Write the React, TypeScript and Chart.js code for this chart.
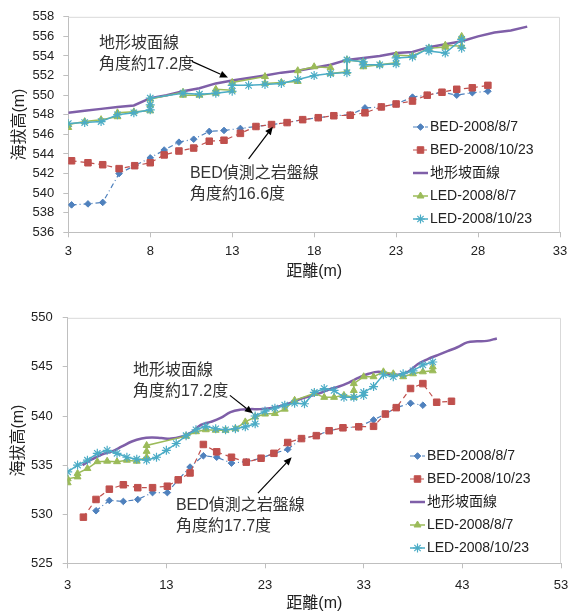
import { useEffect, useRef } from 'react';
import Chart from 'chart.js/auto';
import { drawPoint } from 'chart.js/helpers';

const FONT = "'Liberation Sans', 'Noto Sans CJK TC', sans-serif";

const seriesNames = ['BED-2008/8/7', 'BED-2008/10/23', '地形坡面線', 'LED-2008/8/7', 'LED-2008/10/23'];

// ---------- upper chart ----------
const topXTicks = [3, 8, 13, 18, 23, 28, 33];
const topYTicks = [536, 538, 540, 542, 544, 546, 548, 550, 552, 554, 556, 558];

const topBedX = [3.2, 4.2, 5.1, 6.1, 7.05, 8.0, 8.85, 9.75, 10.65, 11.6, 12.5, 13.5, 14.45, 15.4, 16.35, 17.3, 18.25, 19.2, 20.2, 21.1, 22.1, 23.0, 24.0, 24.9, 25.8, 26.7, 27.65, 28.6];
const topBed0807 = [538.8, 538.9, 539.05, 542.0, 542.8, 543.6, 544.4, 545.2, 545.5, 546.3, 546.4, 546.6, 546.8, 547.0, 547.2, 547.5, 547.7, 547.9, 548.0, 548.7, 548.8, 549.1, 549.8, 550.0, 550.3, 550.0, 550.25, 550.4];
const topBed1023 = [543.3, 543.1, 542.9, 542.5, 542.8, 543.1, 543.9, 544.3, 544.6, 545.3, 545.4, 546.1, 546.8, 547.0, 547.2, 547.5, 547.7, 547.9, 547.95, 548.2, 548.8, 549.1, 549.4, 550.0, 550.3, 550.6, 550.75, 551.0];

const topSlopeX = [3, 4, 5, 6, 7, 8, 9, 10, 11, 12, 13, 14, 15, 16, 17, 18, 19, 20, 21, 22, 23, 24, 25, 26, 27, 28, 29, 30, 31];
const topSlopeY = [548.2, 548.4, 548.6, 548.8, 548.95, 549.7, 550.0, 550.4, 550.7, 551.2, 551.5, 551.75, 552.0, 552.3, 552.5, 552.8, 553.1, 553.6, 553.8, 554.0, 554.3, 554.4, 554.9, 555.2, 555.5, 556.0, 556.4, 556.6, 557.0];

const topLed0807X = [3, 3, 4, 5, 6, 6, 7, 8, 8, 8, 10, 10, 11, 12, 12, 13, 13, 15, 15, 16, 17, 17, 18, 19, 19, 20, 20, 21, 21, 22, 23, 23, 24, 25, 26, 26, 27, 27];
const topLed0807Y = [546.7, 547.0, 547.3, 547.5, 547.8, 548.2, 548.3, 548.4, 549.0, 549.6, 550.3, 550.0, 550.0, 550.2, 550.6, 550.5, 551.3, 551.9, 551.2, 551.3, 551.4, 552.5, 552.9, 552.8, 552.2, 552.4, 553.6, 553.4, 552.9, 553.1, 553.3, 554.1, 554.0, 554.8, 554.9, 555.1, 555.0, 556.0];

const topLed1023X = [3, 4, 5, 6, 7, 8, 8, 8, 10, 11, 12, 13, 13, 14, 15, 16, 17, 18, 19, 20, 20, 21, 21, 22, 23, 23, 24, 25, 25, 26, 27, 27];
const topLed1023Y = [547.1, 547.2, 547.3, 548.0, 548.2, 548.5, 549.0, 549.7, 550.2, 550.1, 550.2, 550.4, 551.0, 551.0, 551.1, 551.2, 551.6, 552.0, 552.2, 552.3, 553.6, 553.4, 553.1, 553.1, 553.2, 553.8, 553.9, 554.8, 554.5, 554.3, 555.7, 554.8];

const topTexts = [
  { lines: ['地形坡面線', '角度約17.2度'], x: 4.87, y: 555.27 },
  { lines: ['BED偵測之岩盤線', '角度約16.6度'], x: 10.42, y: 541.98 },
];
const topArrows = [
  { from: [10.54, 553.45], to: [12.74, 551.8] },
  { from: [14.0, 543.5], to: [15.48, 546.77] },
];

// ---------- lower chart ----------
const botXTicks = [3, 13, 23, 33, 43, 53];
const botYTicks = [525, 530, 535, 540, 545, 550];

const botBedX = [4.59, 5.87, 7.22, 8.64, 10.1, 11.6, 13.1, 14.2, 15.4, 16.75, 18.1, 19.6, 21.1, 22.6, 23.9, 25.3, 26.7, 28.2, 29.5, 30.9, 32.5, 34.0, 35.2, 36.3, 37.75, 39.0, 40.4, 41.9];
const botBed1023 = [529.7, 531.5, 532.55, 533.0, 532.7, 532.7, 532.85, 533.5, 534.2, 537.1, 536.35, 535.8, 535.3, 535.7, 536.2, 537.3, 537.7, 538.0, 538.5, 538.8, 538.9, 538.95, 540.2, 540.85, 542.8, 543.3, 541.4, 541.5];
const botBed0807X = [5.87, 7.22, 8.64, 10.1, 11.6, 13.1, 14.2, 15.4, 16.75, 18.1, 19.6, 21.1, 22.6, 23.9, 25.3, 26.7, 28.2, 29.5, 30.9, 32.5, 34.0, 35.2, 36.3, 37.75, 39.0];
const botBed0807 = [530.35, 531.4, 531.3, 531.5, 532.2, 532.2, 533.5, 534.8, 535.95, 535.8, 535.2, 535.35, 535.7, 536.2, 536.6, 537.7, 538.0, 538.5, 538.8, 538.9, 539.6, 540.2, 540.85, 541.3, 541.1];

const botSlopeX = [4.5, 5.5, 6.5, 7.5, 8.5, 9.5, 10.5, 11.5, 12.5, 13.5, 14.5, 15.5, 16.5, 17.5, 18.5, 19.5, 20.5, 21.5, 22.5, 23.5, 24.5, 25.5, 26.5, 27.5, 28.5, 29.5, 30.5, 31.5, 32.5, 33.5, 34.5, 35.5, 36.5, 37.5, 38.5, 39.5, 40.5, 41.5, 42.5, 43.5, 44.5, 45.5, 46.5];
const botSlopeY = [535.0, 535.6, 536.1, 536.4, 536.9, 537.4, 537.7, 537.8, 537.75, 537.7, 537.9, 538.3, 539.1, 539.4, 539.8, 540.4, 540.65, 540.7, 540.7, 540.8, 541.0, 541.3, 541.7, 542.0, 542.3, 542.7, 543.0, 543.4, 543.9, 544.3, 544.5, 544.3, 544.2, 544.5, 545.3, 545.8, 546.2, 546.6, 547.0, 547.5, 547.6, 547.65, 547.9];

const botLed0807X = [3, 3, 4, 4, 5, 6, 7, 8, 9, 10, 11, 11, 11, 15, 16, 17, 18, 19, 20, 21, 22, 23, 24, 25, 26, 28, 29, 30, 31, 32, 32, 32, 33, 34, 35, 36, 37, 38, 39, 40, 40];
const botLed0807Y = [533.2, 533.6, 533.8, 534.15, 534.65, 535.35, 535.4, 535.35, 535.5, 535.4, 535.8, 536.4, 537.0, 537.95, 538.4, 538.6, 538.55, 538.55, 538.7, 539.4, 539.9, 540.2, 540.25, 540.7, 541.6, 542.3, 541.9, 541.9, 542.1, 541.9, 542.6, 543.3, 544.0, 544.0, 544.5, 544.3, 544.0, 544.3, 544.5, 544.6, 545.0];

const botLed1023X = [3, 4, 5, 6, 7, 8, 9, 10, 11, 12, 13, 14, 15, 16, 17, 18, 19, 20, 21, 22, 22, 23, 24, 25, 26, 27, 28, 29, 30, 31, 32, 33, 33, 34, 35, 36, 37, 38, 39, 40];
const botLed1023Y = [534.3, 535.0, 535.5, 536.2, 536.5, 536.2, 535.8, 535.6, 535.5, 535.8, 536.5, 537.2, 538.0, 538.6, 538.95, 538.7, 538.6, 538.7, 538.9, 539.2, 540.0, 540.5, 540.8, 541.1, 541.3, 541.25, 542.4, 542.8, 542.6, 541.9, 541.9, 542.1, 542.4, 543.0, 544.2, 544.0, 544.3, 544.6, 545.2, 545.5];

const botTexts = [
  { lines: ['地形坡面線', '角度約17.2度'], x: 9.62, y: 544.64 },
  { lines: ['BED偵測之岩盤線', '角度約17.7度'], x: 13.97, y: 530.9 },
];
const botArrows = [
  { from: [19.44, 542.1], to: [21.77, 540.27] },
  { from: [22.28, 532.15], to: [25.7, 535.8] },
];

function pts(xs: number[], ys: number[]) {
  return xs.map((x, i) => ({ x, y: ys[i] }));
}

const frame = {
  id: 'frame',
  afterDraw(chart: any) {
    const { ctx, chartArea: a } = chart;
    ctx.save();
    ctx.strokeStyle = '#d9d9d9';
    ctx.lineWidth = 1;
    ctx.beginPath();
    ctx.moveTo(a.left, a.top + 0.5);
    ctx.lineTo(a.right - 0.5, a.top + 0.5);
    ctx.lineTo(a.right - 0.5, a.bottom);
    ctx.stroke();
    ctx.restore();
  },
};

const notes = {
  id: 'notes',
  afterDraw(chart: any, _args: any, opts: any) {
    const { ctx } = chart;
    const sx = chart.scales.x;
    const sy = chart.scales.y;
    ctx.save();
    ctx.font = `16px ${FONT}`;
    ctx.fillStyle = '#333';
    ctx.textBaseline = 'middle';
    ctx.textAlign = 'left';
    opts.texts.forEach((t: any) => {
      const px = sx.getPixelForValue(t.x);
      const py = sy.getPixelForValue(t.y);
      t.lines.forEach((line: string, i: number) => ctx.fillText(line, px, py + i * opts.lineGap));
    });
    ctx.strokeStyle = '#000';
    ctx.fillStyle = '#000';
    ctx.lineWidth = 1.2;
    opts.arrows.forEach((a: any) => {
      const x1 = sx.getPixelForValue(a.from[0]);
      const y1 = sy.getPixelForValue(a.from[1]);
      const x2 = sx.getPixelForValue(a.to[0]);
      const y2 = sy.getPixelForValue(a.to[1]);
      const ang = Math.atan2(y2 - y1, x2 - x1);
      const hl = 8;
      const hw = 3.5;
      const bx = x2 - hl * Math.cos(ang);
      const by = y2 - hl * Math.sin(ang);
      ctx.beginPath();
      ctx.moveTo(x1, y1);
      ctx.lineTo(bx, by);
      ctx.stroke();
      ctx.beginPath();
      ctx.moveTo(x2, y2);
      ctx.lineTo(bx + hw * Math.sin(ang), by - hw * Math.cos(ang));
      ctx.lineTo(bx - hw * Math.sin(ang), by + hw * Math.cos(ang));
      ctx.closePath();
      ctx.fill();
    });
    ctx.restore();
  },
};

const sideLegend = {
  id: 'sideLegend',
  afterDraw(chart: any, _args: any, opts: any) {
    const { ctx } = chart;
    ctx.save();
    ctx.font = `14px ${FONT}`;
    ctx.textBaseline = 'middle';
    ctx.textAlign = 'left';
    chart.data.datasets.forEach((ds: any, i: number) => {
      const y = opts.y + i * opts.gap;
      ctx.strokeStyle = ds.borderColor;
      ctx.lineWidth = ds.borderWidth;
      ctx.setLineDash(ds.borderDash || []);
      ctx.beginPath();
      ctx.moveTo(opts.x, y);
      ctx.lineTo(opts.x + opts.len, y);
      ctx.stroke();
      ctx.setLineDash([]);
      if (ds.pointRadius > 0) {
        ctx.fillStyle = ds.backgroundColor;
        ctx.strokeStyle = ds.borderColor;
        ctx.lineWidth = ds.pointBorderWidth ?? 1;
        drawPoint(ctx, { pointStyle: ds.pointStyle, radius: ds.pointRadius, borderWidth: ds.pointBorderWidth ?? 1, rotation: 0 }, opts.x + opts.len / 2, y);
      }
      ctx.fillStyle = '#222';
      ctx.fillText(ds.label, opts.x + opts.len + 2, y);
    });
    ctx.restore();
  },
};

function buildDatasets(d: any) {
  return [
    {
      label: seriesNames[0], data: d.bed0807, order: 5, showLine: true,
      borderColor: '#4F81BD', backgroundColor: '#4F81BD', borderWidth: 1.2, borderDash: [5, 3, 1, 3],
      pointStyle: 'rectRot', pointRadius: 3.3, pointBorderWidth: 1,
    },
    {
      label: seriesNames[1], data: d.bed1023, order: 4, showLine: true,
      borderColor: '#C0504D', backgroundColor: '#C0504D', borderWidth: 1.2, borderDash: [5, 4],
      pointStyle: 'rect', pointRadius: 4.6, pointBorderWidth: 1,
    },
    {
      label: seriesNames[2], data: d.slope, order: 3, showLine: true,
      borderColor: '#7F5FA8', backgroundColor: '#7F5FA8', borderWidth: 2.5, tension: d.tension,
      pointRadius: 0,
    },
    {
      label: seriesNames[3], data: d.led0807, order: 2, showLine: true,
      borderColor: '#9BBB59', backgroundColor: '#9BBB59', borderWidth: 1.5,
      pointStyle: 'triangle', pointRadius: 4, pointBorderWidth: 1,
    },
    {
      label: seriesNames[4], data: d.led1023, order: 1, showLine: true,
      borderColor: '#4BACC6', backgroundColor: '#4BACC6', borderWidth: 1.5,
      pointStyle: 'star', pointRadius: 4.5, pointBorderWidth: 1.2,
    },
  ];
}

function buildConfig(c: any) {
  return {
    type: 'scatter',
    data: { datasets: buildDatasets(c) },
    options: {
      responsive: false,
      animation: false,
      events: [],
      layout: { padding: { left: 0, top: c.area.top, right: c.area.right, bottom: 0 } },
      plugins: {
        legend: { display: false },
        tooltip: { enabled: false },
        notes: { texts: c.texts, arrows: c.arrows, lineGap: 21 },
        sideLegend: c.legend,
      },
      scales: {
        x: {
          type: 'linear',
          min: c.xTicks[0],
          max: c.xTicks[c.xTicks.length - 1],
          afterBuildTicks: (s: any) => { s.ticks = c.xTicks.map((v: number) => ({ value: v })); },
          afterFit: (s: any) => { s.height = c.area.xH; },
          grid: { drawOnChartArea: false, tickLength: 5, color: '#bfbfbf' },
          border: { color: '#bfbfbf' },
          ticks: { padding: c.area.xPad, color: '#222', font: { size: 13 }, maxRotation: 0, autoSkip: false },
          title: { display: true, text: '距離(m)', color: '#222', font: { size: 16 }, padding: { top: 0, bottom: c.area.xTitlePad } },
        },
        y: {
          type: 'linear',
          min: c.yTicks[0],
          max: c.yTicks[c.yTicks.length - 1],
          afterBuildTicks: (s: any) => { s.ticks = c.yTicks.map((v: number) => ({ value: v })); },
          afterFit: (s: any) => { s.width = c.area.yW; },
          grid: { drawOnChartArea: false, tickLength: 5, color: '#bfbfbf' },
          border: { color: '#bfbfbf' },
          ticks: { padding: c.area.yPad, color: '#222', font: { size: 13 } },
          title: { display: true, text: '海拔高(m)', color: '#222', font: { size: 16 }, padding: { top: c.area.yTitlePad, bottom: 0 } },
        },
      },
    },
    plugins: [frame, notes, sideLegend],
  };
}

const topConfig = () => buildConfig({
  bed0807: pts(topBedX, topBed0807),
  bed1023: pts(topBedX, topBed1023),
  slope: pts(topSlopeX, topSlopeY),
  led0807: pts(topLed0807X, topLed0807Y),
  led1023: pts(topLed1023X, topLed1023Y),
  tension: 0,
  xTicks: topXTicks,
  yTicks: topYTicks,
  texts: topTexts,
  arrows: topArrows,
  legend: { x: 413, y: 127, gap: 23, len: 15 },
  area: { top: 15, right: 21, xH: 67.7, yW: 68.3, xPad: 6, yPad: 9, xTitlePad: 19, yTitlePad: 10 },
});

const bottomConfig = () => buildConfig({
  bed0807: pts(botBed0807X, botBed0807),
  bed1023: pts(botBedX, botBed1023),
  slope: pts(botSlopeX, botSlopeY),
  led0807: pts(botLed0807X, botLed0807Y),
  led1023: pts(botLed1023X, botLed1023Y),
  tension: 0.4,
  xTicks: botXTicks,
  yTicks: botYTicks,
  texts: botTexts,
  arrows: botArrows,
  legend: { x: 410, y: 156, gap: 23, len: 15 },
  area: { top: 17.3, right: 20, xH: 51.7, yW: 67.7, xPad: 9, yPad: 10, xTitlePad: 2, yTitlePad: 8.5 },
});

function ChartCanvas({ height, make }: { height: number; make: () => any }) {
  const ref = useRef<HTMLCanvasElement>(null);

  useEffect(() => {
    if (!ref.current) return;
    Chart.defaults.font.family = FONT;
    const chart = new Chart(ref.current, make());
    return () => {
      chart.destroy();
    };
  }, [make]);

  return <canvas ref={ref} width={581} height={height} style={{ display: 'block', width: 581, height }} />;
}

export default function App() {
  return (
    <div style={{ position: 'absolute', left: 0, top: 0, width: 581, height: 615, background: '#fff' }}>
      <ChartCanvas height={300} make={topConfig} />
      <ChartCanvas height={315} make={bottomConfig} />
    </div>
  );
}
